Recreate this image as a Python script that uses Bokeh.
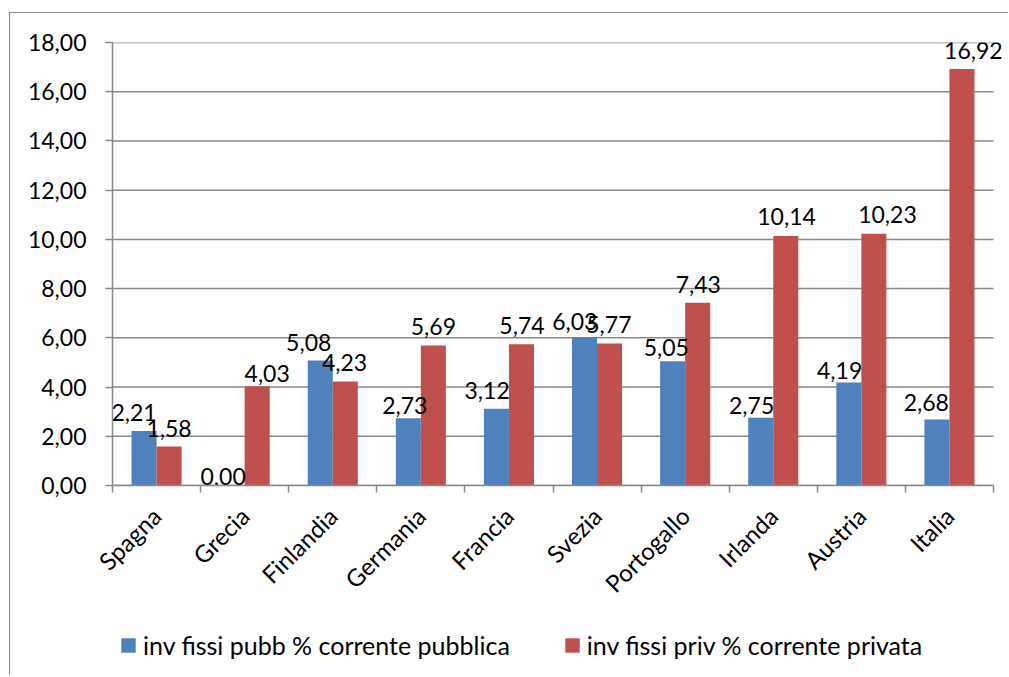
import math
from bokeh.plotting import figure
from bokeh.layouts import column
from bokeh.models import ColumnDataSource, Range1d, FixedTicker, Legend, LegendItem
from bokeh.core.properties import value
from bokeh.embed import file_html
from bokeh.resources import INLINE

countries = ["Spagna", "Grecia", "Finlandia", "Germania", "Francia",
             "Svezia", "Portogallo", "Irlanda", "Austria", "Italia"]
pubblica = [2.21, 0.00, 5.08, 2.73, 3.12, 6.03, 5.05, 2.75, 4.19, 2.68]
privata = [1.58, 4.03, 4.23, 5.69, 5.74, 5.77, 7.43, 10.14, 10.23, 16.92]
y_ticks = [0, 2, 4, 6, 8, 10, 12, 14, 16, 18]
series_names = ["inv fissi pubb % corrente pubblica", "inv fissi priv % corrente privata"]

# pixel nudges of the value labels (manual placement in the original)
pub_dx = [-10, -9, -11.5, -3.5, -9.3, -9.7, -6.3, -9.1, -9.2, -10.6]
pub_gap = [18.5, 9, 18, 12.4, 18.5, 16, 13.7, 11.9, 11.5, 16.9]
priv_dx = [0, 10, -0.7, 0, 0.5, -0.7, 0.6, 0.8, 13.6, 11.4]
priv_gap = [18, 12.5, 18.8, 18.6, 18.4, 18.7, 18.6, 19.3, 19, 18.6]

FONT = "Lato"
GRAY = "#8a8a8a"
BLUE = "#4F81BD"
RED = "#C0504D"
BAR_W = 0.284

# layout (pixels)
W = 998
H_MAIN, H_LEG = 612, 50
MB_LEFT, MB_TOP, MB_BOTTOM, MB_RIGHT = 102, 29, 140, 0
CAT_PX = 88.1            # width of one category on screen
frame_w = W - MB_LEFT - MB_RIGHT


def fmt(v):
    return f"{v:.2f}".replace(".", ",")


n = len(countries)
centers = [i + 0.5 for i in range(n)]
x_end = frame_w / CAT_PX   # frame runs a little past the last category (room for labels)

src_pub = ColumnDataSource(dict(
    x=[c - BAR_W / 2 for c in centers], top=pubblica,
    label=[fmt(v) for v in pubblica], dx=pub_dx, dy=[-g for g in pub_gap]))
src_priv = ColumnDataSource(dict(
    x=[c + BAR_W / 2 for c in centers], top=privata,
    label=[fmt(v) for v in privata], dx=priv_dx, dy=[-g for g in priv_gap]))
src_grid = ColumnDataSource(dict(
    x0=[0] * len(y_ticks), x1=[n] * len(y_ticks), y=y_ticks))

p = figure(width=W, height=H_MAIN, output_backend="svg", toolbar_location=None,
           x_range=Range1d(0, x_end), y_range=Range1d(0, 18),
           min_border_left=MB_LEFT, min_border_right=MB_RIGHT,
           min_border_top=MB_TOP, min_border_bottom=MB_BOTTOM)
p.outline_line_color = None
p.background_fill_color = "white"
p.border_fill_color = "white"
p.xgrid.grid_line_color = None
p.ygrid.grid_line_color = None

# horizontal gridlines limited to the category area
p.segment(x0="x0", x1="x1", y0="y", y1="y", source=src_grid,
          line_color=GRAY, line_width=1.5)

p.vbar(x="x", top="top", bottom=0, width=BAR_W, source=src_pub,
       fill_color=BLUE, line_color=None)
p.vbar(x="x", top="top", bottom=0, width=BAR_W, source=src_priv,
       fill_color=RED, line_color=None)

for src in (src_pub, src_priv):
    p.text(x="x", y="top", text="label", x_offset="dx", y_offset="dy", source=src,
           text_align="center", text_baseline="alphabetic",
           text_font=value(FONT), text_font_size="23px", text_color="black")

# y axis
ya = p.yaxis[0]
ya.ticker = FixedTicker(ticks=y_ticks)
ya.major_label_overrides = {t: fmt(t) for t in y_ticks}
ya.axis_line_color = GRAY
ya.axis_line_width = 1.5
ya.major_tick_line_color = GRAY
ya.major_tick_line_width = 1.5
ya.major_tick_out = 7
ya.major_tick_in = 0
ya.minor_tick_line_color = None
ya.major_label_standoff = 19
ya.major_label_text_font = FONT
ya.major_label_text_font_size = "23px"
ya.major_label_text_color = "black"

# x axis
xa = p.xaxis[0]
xa.bounds = (0, n)
xa.ticker = FixedTicker(ticks=centers, minor_ticks=list(range(n + 1)))
xa.major_label_overrides = {c: name for c, name in zip(centers, countries)}
xa.major_label_orientation = math.pi / 4
xa.axis_line_color = GRAY
xa.axis_line_width = 1.5
xa.major_tick_line_color = None
xa.major_tick_out = 0
xa.major_tick_in = 0
xa.minor_tick_line_color = GRAY
xa.minor_tick_line_width = 1.5
xa.minor_tick_out = 7
xa.minor_tick_in = 0
xa.major_label_standoff = 19
xa.major_label_text_font = FONT
xa.major_label_text_font_size = "24px"
xa.major_label_text_color = "black"

# legend strip below the chart (its frame is aligned with the chart frame)
pl = figure(width=W, height=H_LEG, output_backend="svg", toolbar_location=None,
            x_range=Range1d(0, 1), y_range=Range1d(0, 1),
            x_axis_type=None, y_axis_type=None, min_border=0)
pl.outline_line_color = None
pl.xgrid.grid_line_color = None
pl.ygrid.grid_line_color = None
pl.background_fill_color = "white"
pl.border_fill_color = "white"
# zero-height key holders (invisible) so the legend can draw its swatches
k1 = pl.vbar(x=[centers[0]], top=[0], bottom=0, width=0, fill_color=BLUE, line_color=None)
k2 = pl.vbar(x=[centers[0]], top=[0], bottom=0, width=0, fill_color=RED, line_color=None)
legend = Legend(items=[LegendItem(label=series_names[0], renderers=[k1]),
                       LegendItem(label=series_names[1], renderers=[k2])],
                orientation="horizontal", location=(7, 15),
                glyph_width=18, glyph_height=18, label_standoff=6, spacing=53,
                padding=0, margin=0, border_line_color=None,
                background_fill_alpha=0,
                label_text_font=FONT, label_text_font_size="25px",
                label_text_color="black")
pl.add_layout(legend, "center")

layout = column(p, pl, spacing=0)
layout.styles = {"margin-left": "9px", "margin-top": "12px",
                 "border-top": "1px solid #8e8e8e", "border-left": "1px solid #8e8e8e"}

open("out.html", "w").write(file_html(layout, INLINE))
